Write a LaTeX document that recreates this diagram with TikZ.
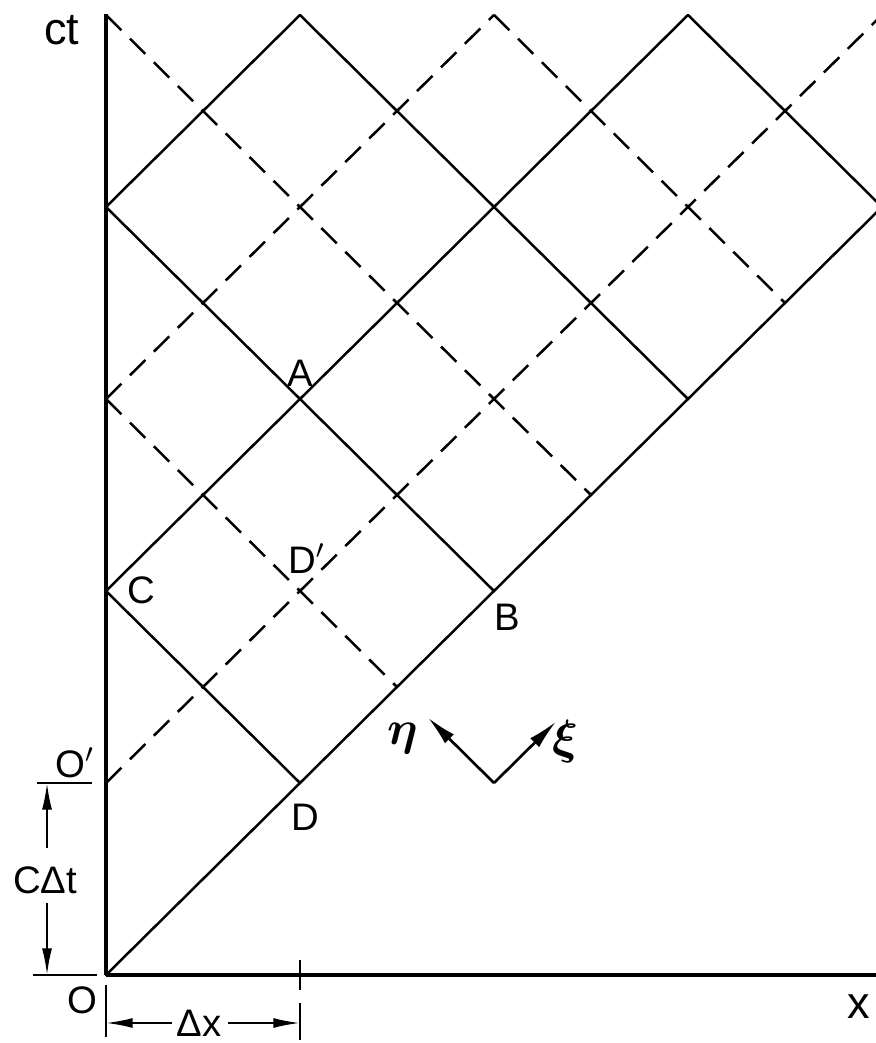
\documentclass[tikz,border=0pt]{standalone}
\usepackage{amsmath}
\usepackage{fontspec}
\setmainfont{Liberation Sans}
\usetikzlibrary{arrows.meta}
\begin{document}
\begin{tikzpicture}[x=58.2pt,y=57.6pt,
  gridline/.style={line width=0.75pt, line cap=round},
  dashline/.style={line width=0.75pt, dash pattern=on 6.5pt off 3.6pt},
  axisline/.style={line width=1.25pt},
  extline/.style={line width=0.6pt},
  dimarrow/.style={line width=0.6pt, -{Latex[length=8pt,width=3pt]}},
  dirarrow/.style={line width=0.8pt, -{Latex[length=9pt,width=3.8pt]}},
  lbl/.style={font=\fontsize{11.5}{13}\selectfont, inner sep=0pt},
  lbll/.style={font=\fontsize{13.5}{15}\selectfont, inner sep=0pt},
  greek/.style={font=\fontsize{14}{16}\selectfont, inner sep=0pt}]
\useasboundingbox (-0.5464,-0.3542) rectangle (3.969,5.078);
% key points
\coordinate (O) at (0,0);
\coordinate (Op) at (0,1);
\coordinate (C) at (0,2);
\coordinate (L3) at (0,3);
\coordinate (L4) at (0,4);
\coordinate (L5) at (0,5);
\coordinate (D) at (1,1);
\coordinate (B) at (2,2);
\coordinate (A) at (1,3);
\coordinate (Dp) at (1,2);
\coordinate (E) at (3,3);
\coordinate (T1) at (1,5);
\coordinate (T2) at (2,5);
\coordinate (T3) at (3,5);
\coordinate (Q1) at (1.5,1.5);
\coordinate (Q2) at (2.5,2.5);
\coordinate (Q3) at (3.5,3.5);
\coordinate (R0) at (4.2,4.2);
\coordinate (R8) at (4.2,3.8);
\coordinate (R1) at (4.2,5.2);
\begin{scope}
\clip (-0.5464,-0.3542) rectangle (3.969,5.078);
% solid characteristics
\draw[gridline] (O) -- (R0);
\draw[gridline] (C) -- (T3);
\draw[gridline] (L4) -- (T1);
\draw[gridline] (C) -- (D);
\draw[gridline] (L4) -- (B);
\draw[gridline] (T1) -- (E);
\draw[gridline] (T3) -- (R8);
% dashed characteristics
\draw[dashline] (Op) -- (R1);
\draw[dashline] (L3) -- (T2);
\draw[dashline] (L3) -- (Q1);
\draw[dashline] (L5) -- (Q2);
\draw[dashline] (T2) -- (Q3);
\end{scope}
% axes
\coordinate (ctTop) at (0,5.005);
\coordinate (xEnd) at (3.969,0);
\draw[axisline] (O) -- (ctTop);
\draw[axisline] (O) -- (xEnd);
% extension lines and ticks
\coordinate (eO1) at (-0.376,0);
\coordinate (eO2) at (-0.046,0);
\coordinate (eP1) at (-0.356,1);
\coordinate (eP2) at (-0.072,1);
\draw[extline] (eO1) -- (eO2);
\draw[extline] (eP1) -- (eP2);
\coordinate (vO1) at (0,-0.052);
\coordinate (vO2) at (0,-0.323);
\draw[extline] (vO1) -- (vO2);
\coordinate (t1a) at (1,0.078);
\coordinate (t1b) at (1,-0.078);
\coordinate (t1c) at (1,-0.146);
\coordinate (t1d) at (1,-0.339);
\draw[extline] (t1a) -- (t1b);
\draw[extline] (t1c) -- (t1d);
% dimension c Delta t
\node[lbl] (cdt) at (-0.314,0.495) {CΔt};
\coordinate (cdtTop) at (-0.304,1);
\coordinate (cdtBot) at (-0.304,0);
\coordinate (cdtA) at (-0.304,0.661);
\coordinate (cdtB) at (-0.304,0.375);
\draw[dimarrow] (cdtA) -- (cdtTop);
\draw[dimarrow] (cdtB) -- (cdtBot);
% dimension Delta x
\node[lbl] (dx) at (0.479,-0.25) {Δx};
\coordinate (dxL) at (0,-0.25);
\coordinate (dxR) at (1,-0.25);
\coordinate (dxA) at (0.34,-0.25);
\coordinate (dxB) at (0.629,-0.25);
\draw[dimarrow] (dxA) -- (dxL);
\draw[dimarrow] (dxB) -- (dxR);
% eta xi directions
\coordinate (V) at (2,1);
\coordinate (Veta) at (1.66,1.34);
\coordinate (Vxi) at (2.32,1.32);
\draw[dirarrow] (V) -- (Veta);
\draw[dirarrow] (V) -- (Vxi);
\node[greek] (eta) at (1.531,1.234) {$\boldsymbol{\eta}$};
\node[greek] (xi) at (2.366,1.214) {$\boldsymbol{\xi}$};
% labels
\node[lbll] (lct) at (-0.227,4.922) {ct};
\node[lbll] (lx) at (3.881,-0.167) {x};
\node[lbl] (lO) at (-0.124,-0.130) {O};
\node[lbl] (lOp) at (-0.160,1.104) {O$'$};
\node[lbl] (lC) at (0.180,2.005) {C};
\node[lbl] (lA) at (1.0,3.135) {A};
\node[lbl] (lDp) at (1.035,2.170) {D$'$};
\node[lbl] (lB) at (2.067,1.865) {B};
\node[lbl] (lD) at (1.026,0.823) {D};
\end{tikzpicture}
\end{document}
